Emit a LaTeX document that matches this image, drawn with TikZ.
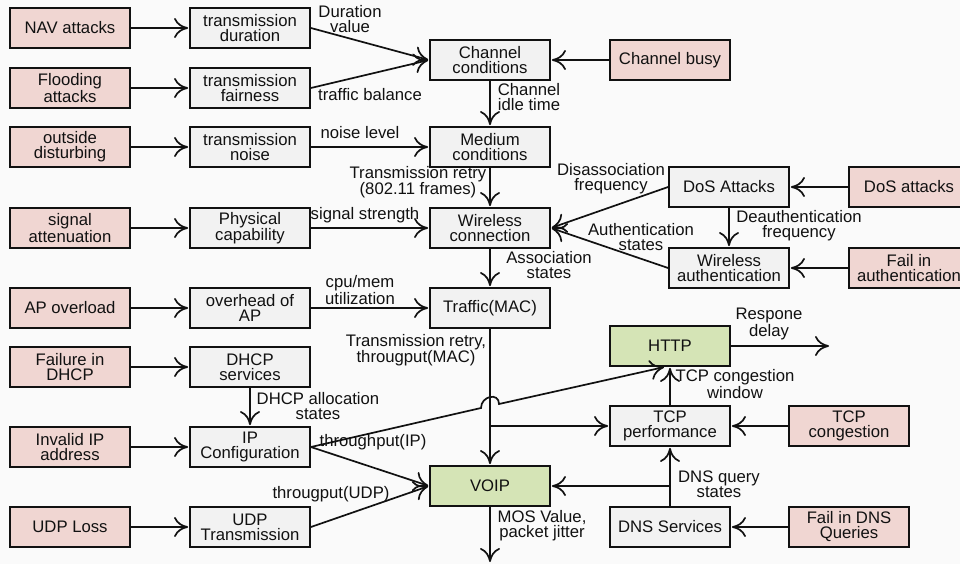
\documentclass[tikz,border=0pt]{standalone}
\usepackage{fontspec}
\setmainfont{Liberation Sans}
\usetikzlibrary{arrows.meta}
\definecolor{pinkc}{HTML}{F0D6D2}
\definecolor{grayc}{HTML}{F2F2F2}
\definecolor{greenc}{HTML}{D5E4B6}
\definecolor{bgc}{HTML}{FAFAFA}
\definecolor{inkc}{HTML}{111111}
\newcommand\dfont{\fontsize{16.7}{15}\selectfont}
\tikzset{
  box/.style={draw=inkc, line width=1.8pt, minimum width=120pt, minimum height=40pt,
    inner sep=0pt, align=center, font=\dfont, text=inkc},
  redbox/.style={box, fill=pinkc},
  graybox/.style={box, fill=grayc},
  greenbox/.style={box, fill=greenc},
  arr/.style={draw=inkc, line width=1.7pt,
    -{Computer Modern Rightarrow[length=14pt,width=20pt,line width=1.7pt]}, shorten >=1pt},
  lbl/.style={font=\dfont, align=center, inner sep=0pt, text=inkc},
}
\begin{document}
\begin{tikzpicture}[x=1pt,y=-1pt]
\useasboundingbox (0,0) rectangle (960,564);
\clip (0,0) rectangle (960,564);
\fill[bgc] (0,0) rectangle (960,564);

% column 1 (causes)
\node[redbox] (nav)     at (70,28)  {NAV attacks};
\node[redbox] (flood)   at (70,88)  {Flooding\\attacks};
\node[redbox] (outside) at (70,147) {outside\\disturbing};
\node[redbox] (signal)  at (70,228) {signal\\attenuation};
\node[redbox] (apover)  at (70,308) {AP overload};
\node[redbox] (faildhcp) at (70,367) {Failure in\\DHCP};
\node[redbox] (invip)   at (70,447) {Invalid IP\\address};
\node[redbox] (udploss) at (70,527) {UDP Loss};

% column 2
\node[graybox] (tdur)   at (250,28)  {transmission\\duration};
\node[graybox] (tfair)  at (250,88)  {transmission\\fairness};
\node[graybox] (tnoise) at (250,147) {transmission\\noise};
\node[graybox] (phys)   at (250,228) {Physical\\capability};
\node[graybox] (ovh)    at (250,308) {overhead of\\AP};
\node[graybox] (dhcp)   at (250,367) {DHCP\\services};
\node[graybox] (ipc)    at (250,447) {IP\\Configuration};
\node[graybox] (udpt)   at (250,527) {UDP\\Transmission};

% column 3
\node[graybox] (chan)    at (490,60)  {Channel\\conditions};
\node[graybox] (med)     at (490,147) {Medium\\conditions};
\node[graybox] (wconn)   at (490,228) {Wireless\\connection};
\node[graybox] (traffic) at (490,308) {Traffic(MAC)};
\node[greenbox] (voip)   at (490,486) {VOIP};

% column 4
\node[redbox]   (busy) at (670,60)  {Channel busy};
\node[greenbox] (http) at (670,346) {HTTP};
\node[graybox]  (tcpp) at (670,426) {TCP\\performance};
\node[graybox]  (dns)  at (670,527) {DNS Services};
\node[graybox]  (dosA)  at (729,187) {DoS Attacks};
\node[graybox]  (wauth) at (729,268) {Wireless\\authentication};

% right column
\node[redbox] (dosatt)   at (909,187) {DoS attacks};
\node[redbox] (failauth) at (909,268) {Fail in\\authentication};
\node[redbox] (tcpcong)  at (849,426) {TCP\\congestion};
\node[redbox] (faildns)  at (849,527) {Fail in DNS\\Queries};

% cause -> symptom arrows
\draw[arr] (nav) -- (tdur);
\draw[arr] (flood) -- (tfair);
\draw[arr] (outside) -- (tnoise);
\draw[arr] (signal) -- (phys);
\draw[arr] (apover) -- (ovh);
\draw[arr] (faildhcp) -- (dhcp);
\draw[arr] (invip) -- (ipc);
\draw[arr] (udploss) -- (udpt);

\draw[arr] (tdur.east) -- (chan.west);
\draw[arr] (tfair.east) -- (chan.west);
\draw[arr] (busy) -- (chan);
\draw[arr] (chan) -- (med);
\draw[arr] (tnoise) -- (med);
\draw[arr] (med) -- (wconn);
\draw[arr] (phys) -- (wconn);
\draw[arr] (dosA.west) -- (wconn.east);
\draw[arr] (wauth.west) -- (wconn.east);
\draw[arr] (dosA) -- (wauth);
\draw[arr] (dosatt) -- (dosA);
\draw[arr] (failauth) -- (wauth);
\draw[arr] (wconn) -- (traffic);
\draw[arr] (ovh) -- (traffic);
\draw[arr] (traffic) -- (voip);
\coordinate (br1) at (traffic.south |- tcpp.west);
\draw[arr] (br1) -- (tcpp.west);

\coordinate (hopA) at (481,408);
\coordinate (hopB) at (499,404);
\coordinate (hpin) at ([xshift=-5pt]http.south);
\draw[arr] (ipc.east) -- (hopA) .. controls +(0,-12) and +(0,-12) .. (hopB) -- (hpin);
\draw[arr] (ipc.east) -- (voip.west);
\draw[arr] (udpt.east) -- (voip.west);
\draw[arr] (dhcp) -- (ipc);
\draw[arr] (tcpcong) -- (tcpp);
\draw[arr] (tcpp) -- (http);
\coordinate (respend) at (830,346);
\draw[arr] (http.east) -- (respend);
\draw[arr] (dns) -- (tcpp);
\coordinate (br2) at (dns.north |- voip.east);
\draw[arr] (br2) -- (voip.east);
\draw[arr] (faildns) -- (dns);
\coordinate (mosend) at (490,563);
\draw[arr] (voip.south) -- (mosend);

% labels
\node[lbl] (l1)  at (350,19)  {Duration\\value};
\node[lbl] (l2)  at (370,95)  {traffic balance};
\node[lbl] (l3)  at (529,97)  {Channel\\idle time};
\node[lbl] (l4)  at (360,133) {noise level};
\node[lbl] (l5)  at (418,182) {Transmission retry\\(802.11 frames)};
\node[lbl] (l6)  at (365,215) {signal strength};
\node[lbl] (l7)  at (611,179) {Disassociation\\frequency};
\node[lbl] (l8)  at (641,237) {Authentication\\states};
\node[lbl] (l9)  at (799,226) {Deauthentication\\frequency};
\node[lbl] (l10) at (549,265) {Association\\states};
\node[lbl] (l11) at (360,290) {cpu/mem\\utilization};
\node[lbl] (l12) at (416,350) {Transmission retry,\\througput(MAC)};
\node[lbl] (l13) at (373,442) {throughput(IP)};
\node[lbl] (l14) at (331,494) {througput(UDP)};
\node[lbl] (l15) at (318,406) {DHCP allocation\\states};
\node[lbl] (l16) at (735,384) {TCP congestion\\window};
\node[lbl] (l17) at (769,324) {Respone\\delay};
\node[lbl] (l18) at (719,484) {DNS query\\states};
\node[lbl] (l19) at (542,526) {MOS Value,\\packet jitter};
\end{tikzpicture}
\end{document}
